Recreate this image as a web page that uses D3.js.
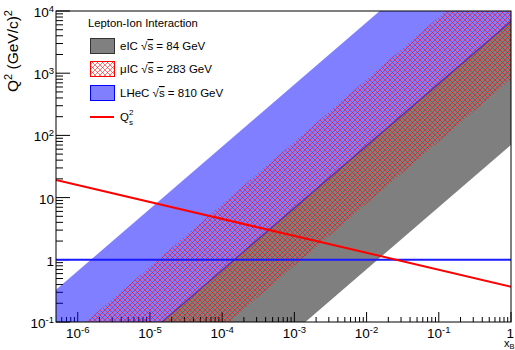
<!DOCTYPE html>
<html>
<head>
<meta charset="utf-8">
<script src="https://cdn.jsdelivr.net/npm/d3@7"></script>
<style>
  body { margin: 0; background: #fff; }
  svg { display: block; font-family: "Liberation Sans", Arial, sans-serif; }
</style>
</head>
<body>
<div id="chart"></div>
<script>
const xTicks = [1e-6, 1e-5, 1e-4, 1e-3, 1e-2, 1e-1, 1];
const xTickLabels = [["10", "-6"], ["10", "-5"], ["10", "-4"], ["10", "-3"], ["10", "-2"], ["10", "-1"], ["1", ""]];
const yTicks = [0.1, 1, 10, 100, 1000, 10000];
const yTickLabels = [["10", "-1"], ["1", ""], ["10", ""], ["10", "2"], ["10", "3"], ["10", "4"]];

// band outlines as [x_B, Q^2] points
const eicBand = [[1.42e-5, 0.1], [1, 7056], [1, 70.6], [1.42e-3, 0.1]];
const muicBand = [[1.3e-6, 0.1], [0.125, 10000], [1, 10000], [1, 801], [1.25e-4, 0.1]];
const lhecBand = [[5e-7, 0.1], [5e-7, 0.33], [0.0152, 10000], [1, 10000], [1, 6561], [1.52e-5, 0.1]];

// saturation scale and Q^2 = 1 reference line
const qsLine = [[5e-7, 19.2], [1, 0.37]];
const oneLine = [[5e-7, 1], [1, 1]];

const legendHeader = "Lepton-Ion Interaction";
const legendNames = ["eIC", "\u03bcIC", "LHeC"];
const legendEnergies = ["84", "283", "810"];

const W = 515, H = 350;
const margin = { top: 11, right: 4, bottom: 28, left: 56 };

const svg = d3.select("#chart").append("svg")
  .attr("width", W)
  .attr("height", H);

const x = d3.scaleLog().domain([5e-7, 1]).range([margin.left, W - margin.right]);
const y = d3.scaleLog().domain([0.1, 10000]).range([H - margin.bottom, margin.top]);
const x0 = x.range()[0], x1 = x.range()[1];
const y0 = y.range()[0], y1 = y.range()[1];

const defs = svg.append("defs");
const pat = defs.append("pattern")
  .attr("id", "hatch")
  .attr("patternUnits", "userSpaceOnUse")
  .attr("width", 5)
  .attr("height", 5);
pat.append("path")
  .attr("d", "M-1,-1L6,6M-1,6L6,-1")
  .attr("stroke", "#ff0000")
  .attr("stroke-opacity", 0.6)
  .attr("stroke-width", 0.9);
defs.append("clipPath").attr("id", "plotclip")
  .append("rect")
  .attr("x", x0).attr("y", y1)
  .attr("width", x1 - x0).attr("height", y0 - y1);

// minor ticks
function minors(lo, hi) {
  const out = [];
  for (let e = Math.floor(Math.log10(lo)); e <= Math.ceil(Math.log10(hi)); e++) {
    for (let m = 2; m <= 9; m++) {
      const v = m * Math.pow(10, e);
      if (v > lo && v < hi) out.push(v);
    }
  }
  return out;
}

const axes = svg.append("g").attr("stroke", "#000").attr("stroke-width", 1);
axes.selectAll(".xmin").data(minors(5e-7, 1)).enter().append("line")
  .attr("x1", d => x(d)).attr("x2", d => x(d))
  .attr("y1", y0).attr("y2", y0 - 5);
axes.selectAll(".xmaj").data(xTicks).enter().append("line")
  .attr("x1", d => x(d)).attr("x2", d => x(d))
  .attr("y1", y0).attr("y2", y0 - 10);
axes.selectAll(".ymin").data(minors(0.1, 10000)).enter().append("line")
  .attr("x1", x0).attr("x2", x0 + 7)
  .attr("y1", d => y(d)).attr("y2", d => y(d));
axes.selectAll(".ymaj").data(yTicks).enter().append("line")
  .attr("x1", x0).attr("x2", x0 + 14)
  .attr("y1", d => y(d)).attr("y2", d => y(d));

// bands
const area = d3.line().x(d => x(d[0])).y(d => y(d[1]));
const plot = svg.append("g").attr("clip-path", "url(#plotclip)");
plot.append("path")
  .attr("d", area(eicBand) + "Z")
  .attr("fill", "#000")
  .attr("fill-opacity", 0.5);
plot.append("path")
  .attr("d", area(lhecBand) + "Z")
  .attr("fill", "#0000ff")
  .attr("fill-opacity", 0.5);
plot.append("path")
  .attr("d", area(muicBand) + "Z")
  .attr("fill", "url(#hatch)");

plot.append("path")
  .attr("d", area(oneLine))
  .attr("fill", "none")
  .attr("stroke", "#1a1aff")
  .attr("stroke-width", 2);
plot.append("path")
  .attr("d", area(qsLine))
  .attr("fill", "none")
  .attr("stroke", "#ff0000")
  .attr("stroke-width", 2);

// frame
svg.append("rect")
  .attr("x", x0).attr("y", y1)
  .attr("width", x1 - x0).attr("height", y0 - y1)
  .attr("fill", "none")
  .attr("stroke", "#000")
  .attr("stroke-width", 1);

// tick labels
const fs = 13.5;
xTicks.forEach((v, i) => {
  const t = svg.append("text")
    .attr("x", x(v)).attr("y", y0 + 16)
    .attr("text-anchor", i === xTicks.length - 1 ? "end" : "middle")
    .attr("dx", i === xTicks.length - 1 ? 3 : 0)
    .style("font-size", fs + "px")
    .text(xTickLabels[i][0]);
  if (xTickLabels[i][1]) {
    t.append("tspan").attr("dy", -5).style("font-size", "9.5px").text(xTickLabels[i][1]);
  }
});
yTicks.forEach((v, i) => {
  const t = svg.append("text")
    .attr("x", x0 - 2).attr("y", y(v) + 6)
    .attr("text-anchor", "end")
    .style("font-size", fs + "px")
    .text(yTickLabels[i][0]);
  if (yTickLabels[i][1]) {
    t.append("tspan").attr("dy", -5).style("font-size", "9.5px").text(yTickLabels[i][1]);
  }
});

// axis titles
const yt = svg.append("text")
  .attr("transform", `translate(18,${y1 - 1}) rotate(-90)`)
  .attr("text-anchor", "end")
  .style("font-size", "15.5px");
yt.append("tspan").text("Q");
yt.append("tspan").attr("dy", -6).style("font-size", "11px").text("2");
yt.append("tspan").attr("dy", 6).text(" (GeV/c)");
yt.append("tspan").attr("dy", -6).style("font-size", "11px").text("2");

const xt = svg.append("text")
  .attr("x", 504).attr("y", 346.5)
  .style("font-size", "11px");
xt.append("tspan").text("x");
xt.append("tspan").attr("dy", 2.5).style("font-size", "7.5px").text("B");

// legend
const lg = svg.append("g").style("font-size", "11.5px");
lg.append("text").attr("x", 88).attr("y", 27).style("font-size", "11.3px").text(legendHeader);
const rowY = [46, 69, 93];
const boxFill = ["#808080", "url(#hatch)", "#8080ff"];
const boxStroke = ["#333", "#ff0000", "#0000ff"];
legendNames.forEach((n, i) => {
  lg.append("rect")
    .attr("x", 90.5).attr("y", rowY[i] - 7.5)
    .attr("width", 24).attr("height", 15)
    .attr("fill", boxFill[i])
    .attr("stroke", boxStroke[i]);
  const t = lg.append("text").attr("x", 120).attr("y", rowY[i] + 4);
  t.append("tspan").text(n + " \u221a");
  t.append("tspan").style("text-decoration", "overline").text("s");
  t.append("tspan").text(" = " + legendEnergies[i] + " GeV");
});
lg.append("line")
  .attr("x1", 90).attr("x2", 114)
  .attr("y1", 117).attr("y2", 117)
  .attr("stroke", "#ff0000").attr("stroke-width", 2);
lg.append("text").attr("x", 120).attr("y", 121).text("Q");
lg.append("text").attr("x", 129).attr("y", 115).style("font-size", "8px").text("2");
lg.append("text").attr("x", 129).attr("y", 125).style("font-size", "8px").text("s");
</script>
</body>
</html>
